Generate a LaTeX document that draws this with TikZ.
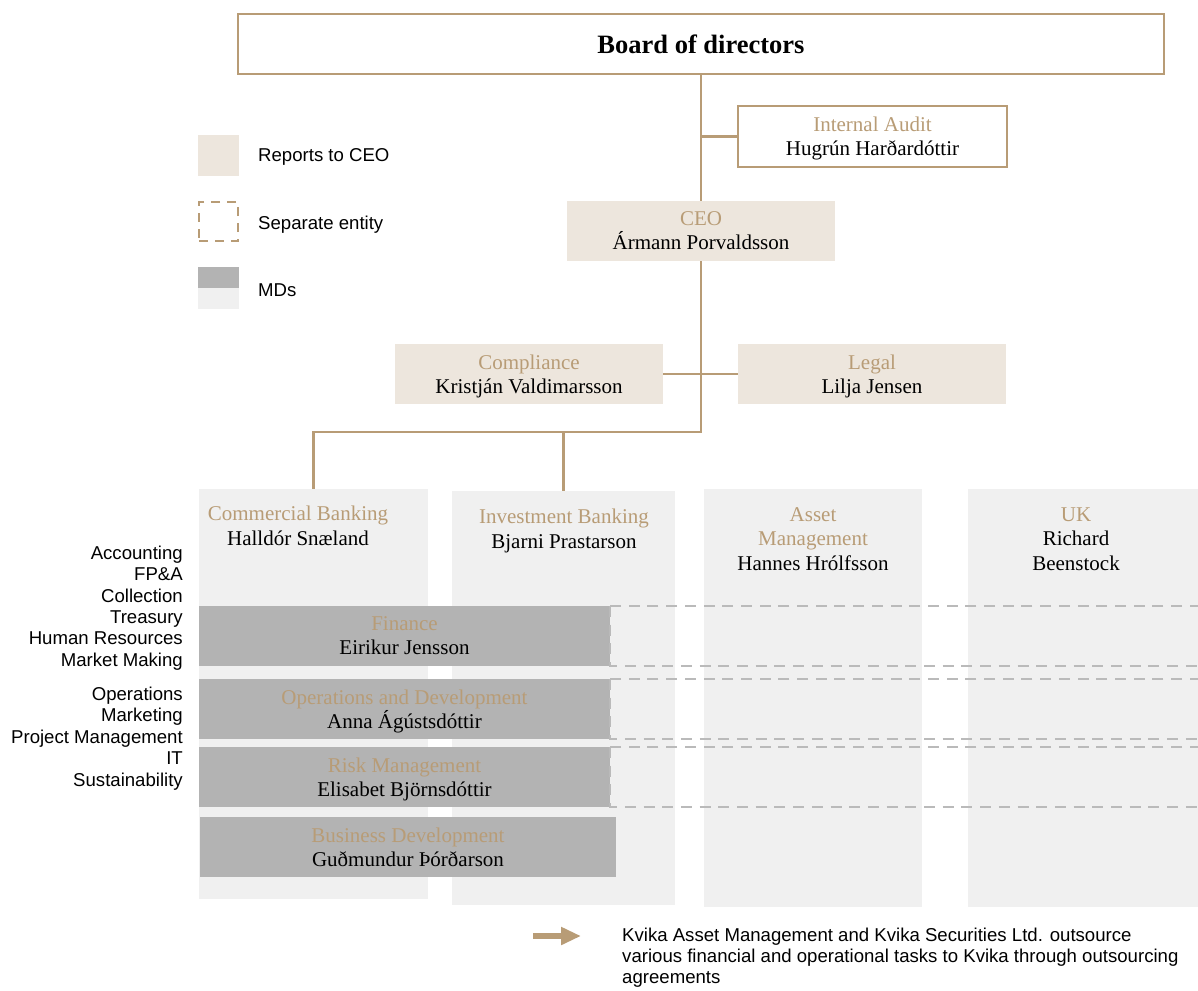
\documentclass[tikz,border=0pt]{standalone}
\usepackage{fontspec}
\setmainfont{Liberation Serif}
\setsansfont{Liberation Sans}
\usetikzlibrary{arrows.meta}

\definecolor{kvtan}{RGB}{184,156,118}
\definecolor{kvbeige}{RGB}{237,230,221}
\definecolor{kvlight}{RGB}{240,240,240}
\definecolor{kvdark}{RGB}{179,179,179}
\definecolor{kvdash}{RGB}{186,186,186}

\newcommand{\boxtitle}[1]{{\color{kvtan}#1}}

\tikzset{
  unit/.style={anchor=north west, inner sep=0pt, outer sep=0pt, align=center,
    text depth=0pt, font=\fontsize{21}{24}\selectfont},
  framebox/.style={unit, draw=kvtan, line width=2.5pt, fill=white},
  ceobox/.style={unit, fill=kvbeige},
  column/.style={unit, fill=kvlight},
  mdbox/.style={unit, fill=kvdark},
  head/.style={inner sep=0pt, align=center, font=\fontsize{21}{24.5}\selectfont},
  entity/.style={draw=kvdash, line width=2.5pt, dash pattern=on 11pt off 7.7pt},
  link/.style={draw=kvtan, line width=2.5pt},
  legendkey/.style={anchor=north west, inner sep=0pt, outer sep=0pt, minimum size=41pt},
  legendtext/.style={anchor=west, inner sep=0pt, font=\sffamily\fontsize{18.6}{21.4}\selectfont},
  sidelist/.style={anchor=east, inner sep=0pt, align=right, font=\sffamily\fontsize{18.6}{21.4}\selectfont},
  note/.style={anchor=north west, inner sep=0pt, align=left, font=\sffamily\fontsize{18.6}{21}\selectfont},
  outsource/.style={draw=kvtan, line width=6pt, -{Triangle[length=20pt, width=17pt]}}
}

\begin{document}
\begin{tikzpicture}[x=1pt, y=-1pt]
  \useasboundingbox (0,0) rectangle (1198,990);

  % legenda
  \node[legendkey, fill=kvbeige] (keyceo) at (198,135) {};
  \node[legendtext] (txtceo) at (258,157) {Reports to CEO};
  \node[legendkey, minimum size=39pt, draw=kvtan, line width=2.5pt, dash pattern=on 9pt off 7pt] (keyentity) at (199,202) {};
  \node[legendtext] (txtentity) at (258,225) {Separate entity};
  \node[legendkey, minimum height=21pt, fill=kvdark] (keymd) at (198,267) {};
  \node[legendkey, minimum height=21pt, fill=kvlight] (keymdlow) at (198,288) {};
  \node[legendtext] (txtmd) at (258,290.5) {MDs};

  % vedeni
  \node[framebox, minimum width=926pt, minimum height=60pt, font=\fontsize{26.5}{30}\selectfont\bfseries] (board) at (238,14) {Board of directors};
  \node[framebox, minimum width=269pt, minimum height=61pt] (audit) at (738,106) {\boxtitle{Internal Audit}\\Hugrún Harðardóttir};
  \node[ceobox, minimum width=268pt, minimum height=60pt] (ceo) at (567,201) {\boxtitle{CEO}\\Ármann Porvaldsson};
  \node[ceobox, minimum width=268pt, minimum height=60pt] (compliance) at (395,344) {\boxtitle{Compliance}\\Kristján Valdimarsson};
  \node[ceobox, minimum width=268pt, minimum height=60pt] (legal) at (738,344) {\boxtitle{Legal}\\Lilja Jensen};
  \coordinate (hub) at (701,432);

  % sloupce
  \node[column, minimum width=229pt, minimum height=410pt] (cb) at (199,489) {};
  \node[column, minimum width=223pt, minimum height=414pt] (ib) at (452,491) {};
  \node[column, minimum width=218pt, minimum height=418pt] (am) at (704,489) {};
  \node[column, minimum width=240pt, minimum height=418pt] (uk) at (968,489) {};
  \node[head] (cbhead) at (298,526) {\boxtitle{Commercial Banking}\\Halldór Snæland};
  \node[head] (ibhead) at (564,531) {\boxtitle{Investment Banking}\\Bjarni Prastarson};
  \node[head] (amhead) at (813,539) {\boxtitle{Asset}\\\boxtitle{Management}\\Hannes Hrólfsson};
  \node[head] (ukhead) at (1076,539) {\boxtitle{UK}\\Richard\\Beenstock};

  % MDs
  \node[mdbox, minimum width=411pt, minimum height=60pt] (finance) at (199,606) {\boxtitle{Finance}\\Eirikur Jensson};
  \node[mdbox, minimum width=411pt, minimum height=60pt] (ops) at (199,679) {\boxtitle{Operations and Development}\\Anna Ágústsdóttir};
  \node[mdbox, minimum width=411pt, minimum height=60pt] (risk) at (199,747) {\boxtitle{Risk Management}\\Elisabet Björnsdóttir};
  \node[mdbox, minimum width=416pt, minimum height=60pt] (bizdev) at (200,817) {\boxtitle{Business Development}\\Guðmundur Þórðarson};
  \foreach \md in {finance, ops, risk}
    \draw[entity] (\md.north east) rectangle ([xshift=600pt]\md.south east);

  \node[sidelist] (finlist) at (183,608) {Accounting\\FP\&A\\Collection\\Treasury\\Human Resources\\Market Making};
  \node[sidelist] (opslist) at (183,738.5) {Operations\\Marketing\\Project Management\\IT\\Sustainability};

  % spojnice
  \draw[link] (board.south) -- (ceo.north);
  \draw[link] (audit.west) -- (audit.west -| board.south);
  \draw[link] (compliance.east) -- (legal.west);
  \draw[link] (ceo.south) -- (hub) -| (cb.north);
  \draw[link] (ib.north |- hub) -- (ib.north);

  % poznamka
  \coordinate (arrowtail) at (533,936);
  \coordinate (arrowtip) at (581,936);
  \draw[outsource] (arrowtail) -- (arrowtip);
  \node[note] (notetext) at (622,928) {Kvika Asset Management and Kvika Securities Ltd. outsource\\various financial and operational tasks to Kvika through outsourcing\\agreements};
\end{tikzpicture}
\end{document}
